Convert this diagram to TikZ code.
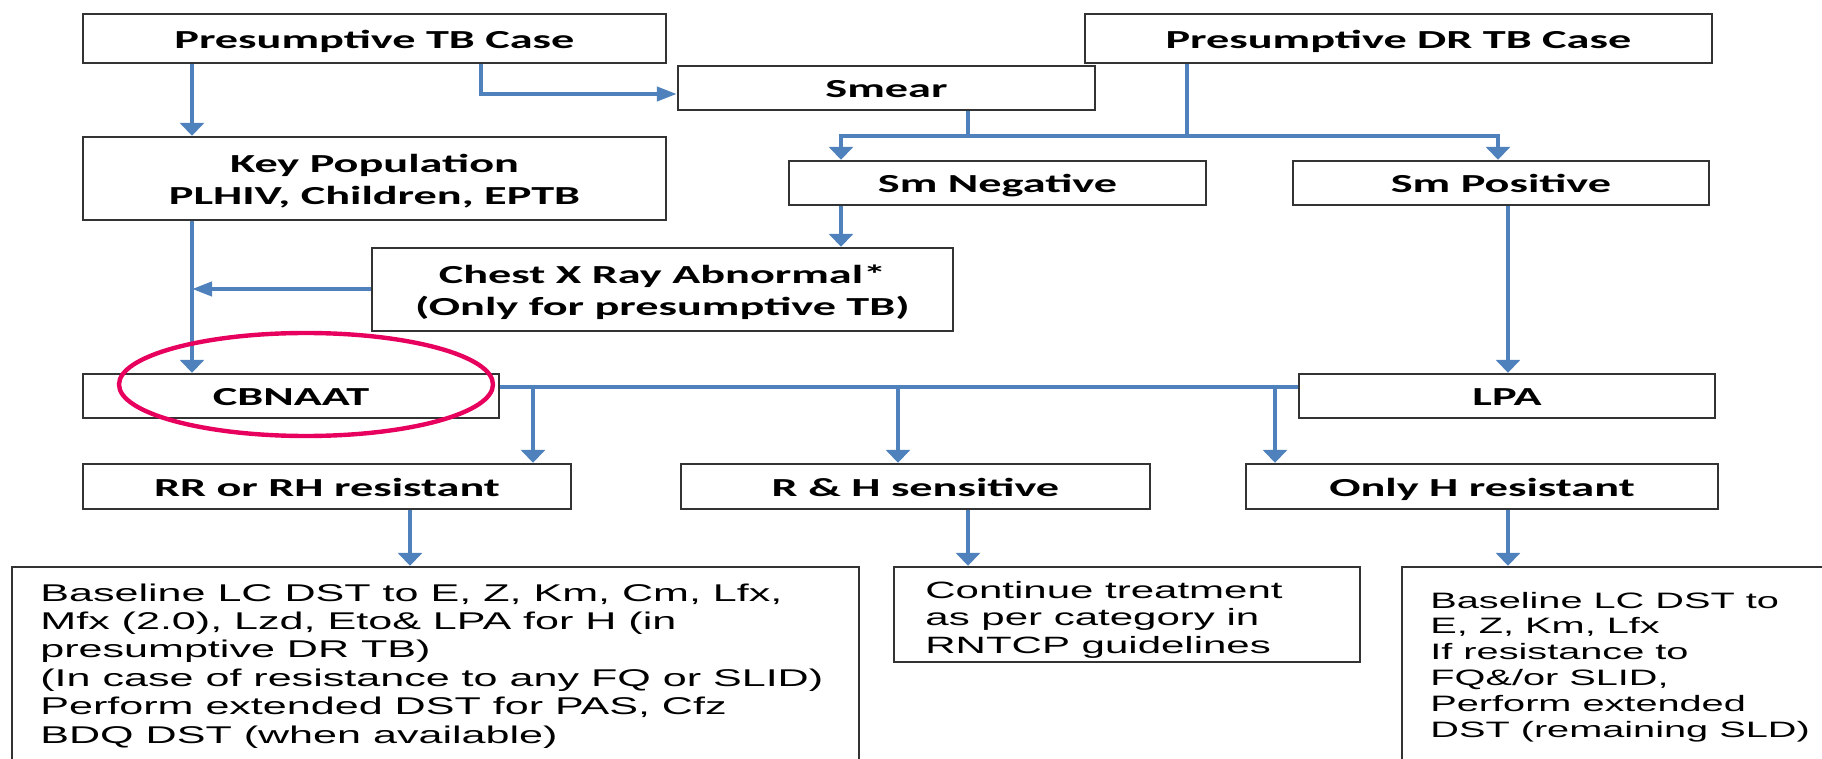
\documentclass[tikz,border=0pt]{standalone}
\usepackage{fontspec}
\setmainfont{Liberation Sans}
\newfontfamily\hdfont{Carlito}
\usepackage{graphicx}
\usetikzlibrary{arrows.meta}
\definecolor{flowblue}{HTML}{4F81BD}
\definecolor{ovalred}{HTML}{E8005E}
\definecolor{boxline}{HTML}{333333}
\newcommand{\sx}[1]{\scalebox{1.78}[1]{#1}}
\newcommand{\twolines}[2]{\raisebox{-2pt}[\height][\depth]{\sx{\begin{tabular}{@{}c@{}}#1\\#2\end{tabular}}}}
\tikzset{
  hbox/.style={draw=boxline, line width=1.2pt, rectangle, inner sep=0pt,
    font=\hdfont\bfseries\fontsize{13}{16}\selectfont},
  onebox/.style={hbox, text height=10pt, text depth=0pt},
  tbox/.style={draw=boxline, line width=1.2pt, rectangle, inner sep=0pt},
  flow/.style={draw=flowblue, line width=2pt},
  varr/.style={flow, -{Triangle[width=12pt,length=6.5pt]}},
  harr/.style={flow, -{Triangle[width=7pt,length=10pt]}},
  body/.style={anchor=base west, inner sep=0pt},
}
\begin{document}
\begin{tikzpicture}[x=0.5pt,y=-0.5pt]
\useasboundingbox (0,0) rectangle (1822,759);
\clip (0,0) rectangle (1822,759);
\fill[white] (0,0) rectangle (1822,759);

% header boxes
\node[onebox, minimum width=291.5pt, minimum height=24.5pt] (tb) at (374.5,38.5) {\sx{Presumptive TB Case}};
\node[onebox, minimum width=313.5pt, minimum height=24.5pt] (dr) at (1398.5,38.5) {\sx{Presumptive DR TB Case}};
\node[onebox, minimum width=208.5pt, minimum height=22pt] (smear) at (886.5,88) {\sx{Smear}};
\node[hbox, minimum width=291.5pt, minimum height=41.5pt] (kp) at (374.5,178.5)
  {\twolines{Key Population}{PLHIV, Children, EPTB}};
\node[onebox, minimum width=208.5pt, minimum height=22pt] (smneg) at (997.5,183) {\sx{Sm Negative}};
\node[onebox, minimum width=208pt, minimum height=22pt] (smpos) at (1501,183) {\sx{Sm Positive}};
\node[hbox, minimum width=290.5pt, minimum height=41.5pt] (cxr) at (662.5,289.5)
  {\twolines{Chest X Ray Abnormal*}{(Only for presumptive TB)}};
\node[onebox, minimum width=208pt, minimum height=22pt] (cbnaat) at (291,396) {\sx{CBNAAT}};
\node[onebox, minimum width=208pt, minimum height=22pt] (lpa) at (1507,396) {\sx{LPA}};
\node[onebox, minimum width=244pt, minimum height=22.5pt] (rr) at (327,486.5) {\sx{RR or RH resistant}};
\node[onebox, minimum width=234.5pt, minimum height=22.5pt] (rh) at (915.5,486.5) {\sx{R \& H sensitive}};
\node[onebox, minimum width=236pt, minimum height=22.5pt] (onlyh) at (1482,486.5) {\sx{Only H resistant}};

% result boxes
\node[tbox, minimum width=423.5pt, minimum height=116.5pt] (dst1) at (435.5,683.5) {};
\node[tbox, minimum width=233pt, minimum height=47.5pt] (cont) at (1127,614.5) {};
\node[tbox, minimum width=229pt, minimum height=116.5pt] (dst2) at (1631,683.5) {};

\node[body, font=\fontsize{12.1}{14.2}\selectfont] (dst1txt) at (40,601)
  {\sx{\begin{tabular}[t]{@{}l@{}}Baseline LC DST to E, Z, Km, Cm, Lfx,\\
   Mfx (2.0), Lzd, Eto\& LPA for H (in\\
   presumptive DR TB)\\
   (In case of resistance to any FQ or SLID)\\
   Perform extended DST for PAS, Cfz\\
   BDQ DST (when available)\end{tabular}}};
\node[body, font=\fontsize{11.8}{13.75}\selectfont] (conttxt) at (925,598)
  {\sx{\begin{tabular}[t]{@{}l@{}}Continue treatment\\
   as per category in\\
   RNTCP guidelines\end{tabular}}};
\node[body, font=\fontsize{11.15}{12.9}\selectfont] (dst2txt) at (1430,608)
  {\sx{\begin{tabular}[t]{@{}l@{}}Baseline LC DST to\\
   E, Z, Km, Lfx\\
   If resistance to\\
   FQ\&/or SLID,\\
   Perform extended\\
   DST (remaining SLD)\end{tabular}}};

% junction coordinates
\coordinate (a1) at (192,289);
\coordinate (s1) at (481,94);
\coordinate (sm) at (968,136);
\coordinate (drc) at (1187,136);
\coordinate (jL) at (841,136);
\coordinate (jR) at (1498,136);
\coordinate (h1) at (533,387);
\coordinate (h2) at (898,387);
\coordinate (h3) at (1275,387);
\coordinate (d1) at (410,540);
\coordinate (d2) at (968,540);
\coordinate (d3) at (1508,540);

% connectors
\draw[varr] (tb.south -| a1) -- (kp.north -| a1);
\draw[harr] (tb.south -| s1) -- (s1) -- (smear.west |- s1);
\draw[flow] (smear.south -| sm) -- (sm);
\draw[varr] (dr.south -| drc) -- (drc) -- (jL) -- (smneg.north -| jL);
\draw[varr] (drc) -- (jR) -- (smpos.north -| jR);
\draw[varr] (smneg.south -| jL) -- (cxr.north -| jL);
\draw[harr] (cxr.west |- a1) -- (a1);
\draw[varr] (kp.south -| a1) -- (cbnaat.north -| a1);
\draw[varr] (smpos.south -| d3) -- (lpa.north -| d3);
\draw[flow] (cbnaat.east |- h1) -- (lpa.west |- h1);
\draw[varr] (h1) -- (rr.north -| h1);
\draw[varr] (h2) -- (rh.north -| h2);
\draw[varr] (h3) -- (onlyh.north -| h3);
\draw[varr] (rr.south -| d1) -- (dst1.north -| d1);
\draw[varr] (rh.south -| d2) -- (cont.north -| d2);
\draw[varr] (onlyh.south -| d3) -- (dst2.north -| d3);

% highlight oval
\draw[ovalred, line width=2.2pt] (306,384.5) ellipse [x radius=93.5pt, y radius=25.75pt];
\end{tikzpicture}
\end{document}
